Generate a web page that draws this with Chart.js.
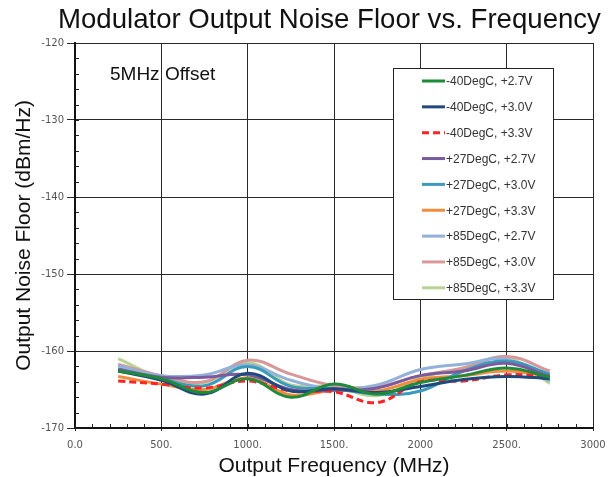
<!DOCTYPE html>
<html>
<head>
<meta charset="utf-8">
<script src="https://cdn.jsdelivr.net/npm/chart.js@4.4.1/dist/chart.umd.min.js"></script>
<style>
  html, body { margin: 0; padding: 0; background: #fff; }
  #wrap { width: 615px; height: 477px; }
</style>
</head>
<body>
<div id="wrap"><canvas id="noiseChart" width="615" height="477"></canvas></div>
<script>
// Output frequency (MHz) sample points
const freqs = [250, 500, 750, 1000, 1250, 1500, 1750, 2000, 2250, 2500, 2750];

// Noise floor (dBm/Hz) at 5 MHz offset, per temperature / supply
const m40_27 = [-162.6, -163.6, -165.4, -163.6, -166.0, -164.3, -165.6, -164.1, -163.2, -162.2, -163.4];
const m40_30 = [-162.6, -163.8, -165.6, -162.9, -165.2, -164.9, -165.4, -164.6, -163.7, -163.3, -163.6];
const m40_33 = [-163.9, -164.3, -164.8, -163.9, -165.2, -165.3, -166.7, -164.0, -163.9, -163.1, -163.3];
const p27_27 = [-162.4, -163.4, -163.4, -163.1, -165.0, -165.1, -164.8, -163.2, -162.6, -161.6, -163.3];
const p27_30 = [-162.3, -163.6, -164.5, -162.0, -164.6, -164.9, -165.6, -165.2, -162.6, -161.3, -163.0];
const p27_33 = [-163.3, -164.3, -165.0, -163.5, -165.7, -165.1, -165.2, -163.7, -163.2, -162.6, -163.3];
const p85_27 = [-161.9, -163.2, -163.1, -161.8, -163.8, -164.9, -164.4, -162.4, -161.7, -161.1, -163.9];
const p85_30 = [-161.7, -163.2, -164.0, -161.2, -163.0, -164.5, -164.6, -163.2, -162.2, -160.7, -162.6];
const p85_33 = [-161.0, -163.5, -164.1, -161.5, -164.4, -164.6, -165.8, -163.5, -162.2, -160.9, -164.2];

const seriesLabels = [
  '-40DegC, +2.7V', '-40DegC, +3.0V', '-40DegC, +3.3V',
  '+27DegC, +2.7V', '+27DegC, +3.0V', '+27DegC, +3.3V',
  '+85DegC, +2.7V', '+85DegC, +3.0V', '+85DegC, +3.3V'
];
const seriesData = [m40_27, m40_30, m40_33, p27_27, p27_30, p27_33, p85_27, p85_30, p85_33];
const seriesColors = [
  '#1f8a3a', '#1f4a7e', '#ff2424',
  '#7a5c9e', '#3c9bbd', '#f28c3e',
  '#93b1d9', '#d8989a', '#b9d492'
];

const xTickLabels = ['0.0', '500.', '1000.', '1500.', '2000', '2500.', '3000'];
const yTickValues = [-170, -160, -150, -140, -130, -120];

const datasets = seriesData.map((vals, i) => ({
  label: seriesLabels[i],
  data: freqs.map((f, j) => ({ x: f, y: vals[j] })),
  borderColor: seriesColors[i],
  backgroundColor: seriesColors[i],
  borderWidth: 3,
  borderDash: i === 2 ? [7, 4] : [],
  pointRadius: 0,
  fill: false,
  tension: 0.4
}));

// minor tick marks, title, offset note and boxed legend
const decorations = {
  id: 'decorations',
  afterDraw(chart) {
    const ctx = chart.ctx;
    const xs = chart.scales.x, ys = chart.scales.y;
    const area = chart.chartArea;
    ctx.save();

    ctx.strokeStyle = '#222';
    ctx.lineWidth = 1;
    ctx.beginPath();
    for (let v = xs.min; v <= xs.max; v += 100) {
      const px = Math.round(xs.getPixelForValue(v)) + 0.5;
      ctx.moveTo(px, area.bottom);
      ctx.lineTo(px, area.bottom - 4);
    }
    for (let v = ys.min; v <= ys.max; v += 2) {
      const py = Math.round(ys.getPixelForValue(v)) + 0.5;
      ctx.moveTo(area.left, py);
      ctx.lineTo(area.left + 4, py);
    }
    ctx.stroke();

    ctx.fillStyle = '#111';
    ctx.textBaseline = 'alphabetic';
    ctx.textAlign = 'left';
    ctx.font = '27.6px "Liberation Sans", Arial, sans-serif';
    ctx.fillText('Modulator Output Noise Floor vs. Frequency', 58, 28);

    ctx.font = '19px "Liberation Sans", Arial, sans-serif';
    ctx.fillText('5MHz Offset', 110, 80);

    // legend box
    const box = { left: 393, top: 68, right: 553, bottom: 299 };
    ctx.fillStyle = '#fff';
    ctx.fillRect(box.left, box.top, box.right - box.left, box.bottom - box.top);
    ctx.strokeStyle = '#222';
    ctx.lineWidth = 1;
    ctx.strokeRect(box.left + 0.5, box.top + 0.5, box.right - box.left, box.bottom - box.top);

    ctx.font = '12px "Liberation Sans", Arial, sans-serif';
    ctx.textBaseline = 'middle';
    chart.data.datasets.forEach((ds, i) => {
      const y = 81 + i * 25.85;
      ctx.strokeStyle = ds.borderColor;
      ctx.lineWidth = 3;
      ctx.setLineDash(ds.borderDash);
      ctx.beginPath();
      ctx.moveTo(422, y);
      ctx.lineTo(445, y);
      ctx.stroke();
      ctx.setLineDash([]);
      ctx.fillStyle = '#333';
      ctx.fillText(ds.label, 446, y + 1);
    });

    ctx.restore();
  }
};

new Chart(document.getElementById('noiseChart'), {
  type: 'line',
  data: { datasets },
  plugins: [decorations],
  options: {
    responsive: false,
    animation: false,
    layout: { padding: { top: 43, right: 22, left: 0, bottom: 0 } },
    plugins: {
      legend: { display: false },
      title: { display: false },
      tooltip: { enabled: false }
    },
    scales: {
      x: {
        type: 'linear',
        min: 0,
        max: 3000,
        afterFit(scale) { scale.height = 49; },
        border: { color: '#111', width: 2 },
        grid: { color: '#2a2a2a', lineWidth: 1, tickLength: 3, drawTicks: true },
        ticks: {
          stepSize: 500,
          padding: 8,
          color: '#555',
          maxRotation: 0,
          font: { family: '"DejaVu Sans", sans-serif', size: 10 },
          callback: (v) => xTickLabels[v / 500]
        },
        title: {
          display: true,
          text: 'Output Frequency (MHz)',
          color: '#111',
          font: { family: '"Liberation Sans", Arial, sans-serif', size: 21, lineHeight: 1 },
          padding: { top: 0, bottom: 0 }
        }
      },
      y: {
        min: -170,
        max: -120,
        afterFit(scale) { scale.width = 75; },
        afterBuildTicks(scale) { scale.ticks = yTickValues.map(v => ({ value: v })); },
        border: { color: '#111', width: 2 },
        grid: { color: '#2a2a2a', lineWidth: 1, tickLength: 8, drawTicks: true },
        ticks: {
          padding: 3,
          color: '#555',
          font: { family: '"DejaVu Sans", sans-serif', size: 10 }
        },
        title: {
          display: true,
          text: 'Output Noise Floor (dBm/Hz)',
          color: '#111',
          font: { family: '"Liberation Sans", Arial, sans-serif', size: 21, lineHeight: 1 },
          padding: { top: 14, bottom: 0 }
        }
      }
    }
  }
});
</script>
</body>
</html>
